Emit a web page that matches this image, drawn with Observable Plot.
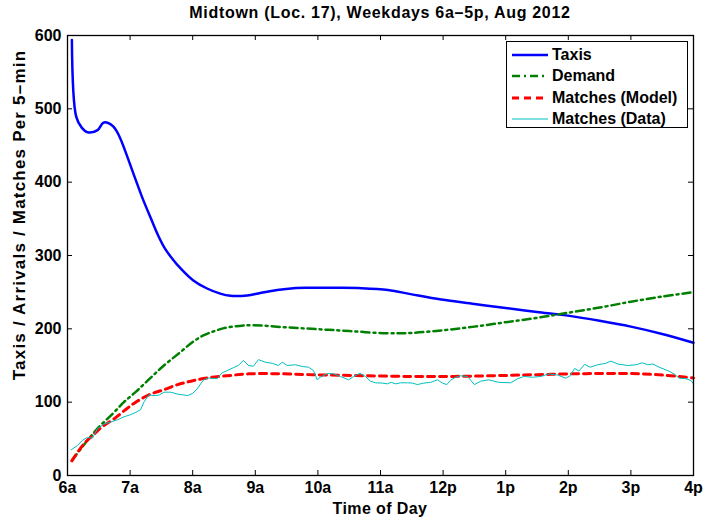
<!DOCTYPE html>
<html>
<head>
<meta charset="utf-8">
<script src="https://cdn.jsdelivr.net/npm/d3@7"></script>
<script src="https://cdn.jsdelivr.net/npm/@observablehq/plot@0.6"></script>
<style>
  body { margin: 0; background: white; }
  #wrap { position: relative; width: 703px; height: 522px; font-family: "Liberation Sans", Arial, sans-serif; font-weight: bold; color: black; }
  #title { position: absolute; left: 67px; width: 626px; top: 4px; text-align: center; font-size: 16px; line-height: 18px; letter-spacing: 0.7px; white-space: nowrap; }
  #xlabel { position: absolute; left: 67px; width: 626px; top: 500px; text-align: center; font-size: 16px; line-height: 18px; letter-spacing: 0.4px; white-space: nowrap; }
  #ylabel { position: absolute; left: 20px; top: 215px; width: 400px; text-align: center; font-size: 17px; line-height: 18px; letter-spacing: 1.2px; white-space: nowrap; transform: translate(-50%, -50%) rotate(-90deg); }
  #legend { position: absolute; left: 506px; top: 41px; width: 182px; height: 87px; border: 1.5px solid black; background: white; box-sizing: border-box; padding-top: 2px; }
  .row { display: flex; align-items: center; height: 21.5px; font-size: 16px; }
  .row svg { margin-left: 5px; margin-right: 4px; }
</style>
</head>
<body>
<div id="wrap">
  <div id="chart"></div>
  <div id="title">Midtown (Loc. 17), Weekdays 6a–5p, Aug 2012</div>
  <div id="xlabel">Time of Day</div>
  <div id="ylabel">Taxis / Arrivals / Matches Per 5–min</div>
  <div id="legend"></div>
</div>
<script>
// ---- data (hours since midnight, values per 5-min) ----
const taxiTimes = [6.07, 6.14, 6.23, 6.32, 6.48, 6.57, 6.64, 6.73, 6.82, 7.06, 7.19, 7.33, 7.45, 7.56, 7.68, 7.80, 8.01, 8.23, 8.44, 8.6, 8.87, 9.08, 9.35, 9.61, 9.88, 10.3, 10.7, 11.12, 11.5, 11.97, 12.5, 13.03, 13.5, 13.99, 14.5, 15.0, 15.5, 16.0];
const taxiValues = [594, 489, 474, 468, 471, 481, 481, 476, 464, 410, 380, 351, 327, 309, 295, 283, 266, 255, 248, 245, 245.5, 249, 253, 255.5, 256, 256, 255.5, 253, 247, 240, 234, 228, 223, 218, 211, 203, 193, 181];

const demandTimes = [6.07, 6.32, 6.5, 6.72, 6.9, 7.09, 7.3, 7.54, 7.8, 8.0, 8.17, 8.35, 8.5, 8.75, 8.97, 9.5, 10.0, 10.5, 11.1, 11.5, 12.0, 12.5, 13.0, 13.5, 14.0, 14.5, 15.0, 15.5, 16.0];
const demandValues = [20.5, 48, 66, 84, 100, 114, 131, 150, 168, 182, 191, 197, 201, 204, 205, 202, 199.5, 197, 194, 194.5, 198, 203, 209, 215, 222, 229, 237, 244, 250];

const modelTimes = [6.07, 6.26, 6.42, 6.56, 6.74, 6.93, 7.09, 7.3, 7.54, 7.76, 7.97, 8.23, 8.55, 8.89, 9.35, 9.77, 10.15, 10.8, 11.5, 12.0, 12.5, 13.0, 13.5, 14.0, 14.5, 15.0, 15.5, 16.0];
const modelValues = [20, 43, 56, 67, 77, 90, 100, 110, 117, 124, 128.6, 133, 136, 138.6, 138.8, 137.7, 137, 136, 135, 135, 135.5, 136.5, 137.5, 138.6, 139, 139, 137, 133];

const dataTimes = [6.06, 6.16, 6.24, 6.32, 6.40, 6.48, 6.58, 6.69, 6.80, 6.90, 7.01, 7.09, 7.17, 7.22, 7.30, 7.38, 7.46, 7.54, 7.65, 7.76, 7.92, 8.00, 8.07, 8.17, 8.25, 8.39, 8.47, 8.55, 8.65, 8.73, 8.81, 8.89, 8.97, 9.05, 9.16, 9.27, 9.37, 9.43, 9.51, 9.64, 9.75, 9.85, 9.93, 9.99, 10.04, 10.15, 10.25, 10.36, 10.49, 10.57, 10.67, 10.76, 10.84, 10.92, 11.03, 11.11, 11.17, 11.24, 11.32, 11.43, 11.51, 11.59, 11.69, 11.80, 11.91, 11.99, 12.06, 12.12, 12.20, 12.28, 12.39, 12.50, 12.60, 12.73, 12.89, 13.08, 13.19, 13.29, 13.43, 13.56, 13.69, 13.83, 13.96, 14.03, 14.10, 14.17, 14.26, 14.35, 14.47, 14.60, 14.68, 14.79, 14.95, 15.08, 15.18, 15.27, 15.35, 15.45, 15.59, 15.69, 15.77, 15.88, 15.96, 16.0];
const dataValues = [35, 41, 48, 52, 51, 64, 70, 73, 76, 80, 83, 86, 90, 100, 110, 109, 109.5, 113.6, 113.6, 111, 109, 112, 118, 130, 133, 132, 140, 143, 147, 150, 157, 150, 149, 158, 154.5, 153, 150, 154.5, 150, 151, 148.6, 147.7, 143, 130.5, 134, 139, 138.6, 135, 130.5, 135, 139.5, 135, 128.6, 126.4, 126, 125, 127, 125, 126.4, 126.4, 126, 124, 126, 127, 130.5, 126, 124, 130, 134, 136, 135, 124, 128.6, 130.5, 127, 126.4, 132, 135, 134, 135, 138.6, 137, 132.7, 136, 146, 142.5, 151.5, 147.7, 151, 153, 156, 152, 150, 151, 153.7, 151, 152, 147.7, 143, 138.6, 132.7, 132, 129.5, 125];

const xTicks = [6, 7, 8, 9, 10, 11, 12, 13, 14, 15, 16];
const xTickLabels = ["6a", "7a", "8a", "9a", "10a", "11a", "12p", "1p", "2p", "3p", "4p"];
const yTicks = [0, 100, 200, 300, 400, 500, 600];

const seriesNames = ["Taxis", "Demand", "Matches (Model)", "Matches (Data)"];
const seriesColors = ["#0000ff", "#008000", "#ff0000", "#00bfbf"];
const seriesWidths = [2.5, 2.5, 3, 1];
const seriesDash = [null, "8,4,2,4", "7,5", null];

// ---- build tables ----
const toRows = (ts, vs) => ts.map((t, i) => ({t, v: vs[i]}));
const tables = [toRows(taxiTimes, taxiValues), toRows(demandTimes, demandValues), toRows(modelTimes, modelValues), toRows(dataTimes, dataValues)];

const W = 703, H = 522, mL = 67, mR = 10, mT = 35, mB = 47;
const innerW = W - mL - mR, innerH = H - mT - mB;
const tick = 5;

const lineMarks = tables.map((rows, i) => Plot.line(rows, {
  x: "t", y: "v",
  stroke: seriesColors[i], strokeWidth: seriesWidths[i],
  strokeDasharray: seriesDash[i],
  curve: i === 3 ? "linear" : "catmull-rom"
}));

const chart = Plot.plot({
  width: W, height: H,
  marginLeft: mL, marginRight: mR, marginTop: mT, marginBottom: mB,
  style: {fontFamily: "'Liberation Sans', Arial, sans-serif", fontSize: "16px", fontWeight: "bold", color: "black", background: "white"},
  x: {domain: [6, 16]},
  y: {domain: [0, 600]},
  marks: [
    Plot.axisX(xTicks, {tickSize: 0, tickPadding: 6, tickFormat: d => xTickLabels[xTicks.indexOf(d)], label: null}),
    Plot.axisY(yTicks, {tickSize: 0, tickPadding: 6, label: null}),
    Plot.tickX(xTicks, {x: d => d, insetTop: innerH - tick, stroke: "black", strokeWidth: 1}),
    Plot.tickX(xTicks, {x: d => d, insetBottom: innerH - tick, stroke: "black", strokeWidth: 1}),
    Plot.tickY(yTicks, {y: d => d, insetRight: innerW - tick, stroke: "black", strokeWidth: 1}),
    Plot.tickY(yTicks, {y: d => d, insetLeft: innerW - tick, stroke: "black", strokeWidth: 1}),
    ...lineMarks,
    Plot.frame({stroke: "black", strokeWidth: 1.3})
  ]
});
document.getElementById("chart").appendChild(chart);

// ---- legend ----
const legend = document.getElementById("legend");
seriesNames.forEach((name, i) => {
  const row = document.createElement("div");
  row.className = "row";
  const dash = seriesDash[i] ? ` stroke-dasharray="${seriesDash[i]}"` : "";
  row.innerHTML = `<svg width="36" height="10"><line x1="0" x2="36" y1="5" y2="5" stroke="${seriesColors[i]}" stroke-width="${seriesWidths[i]}"${dash}/></svg><span>${name}</span>`;
  legend.appendChild(row);
});
</script>
</body>
</html>
